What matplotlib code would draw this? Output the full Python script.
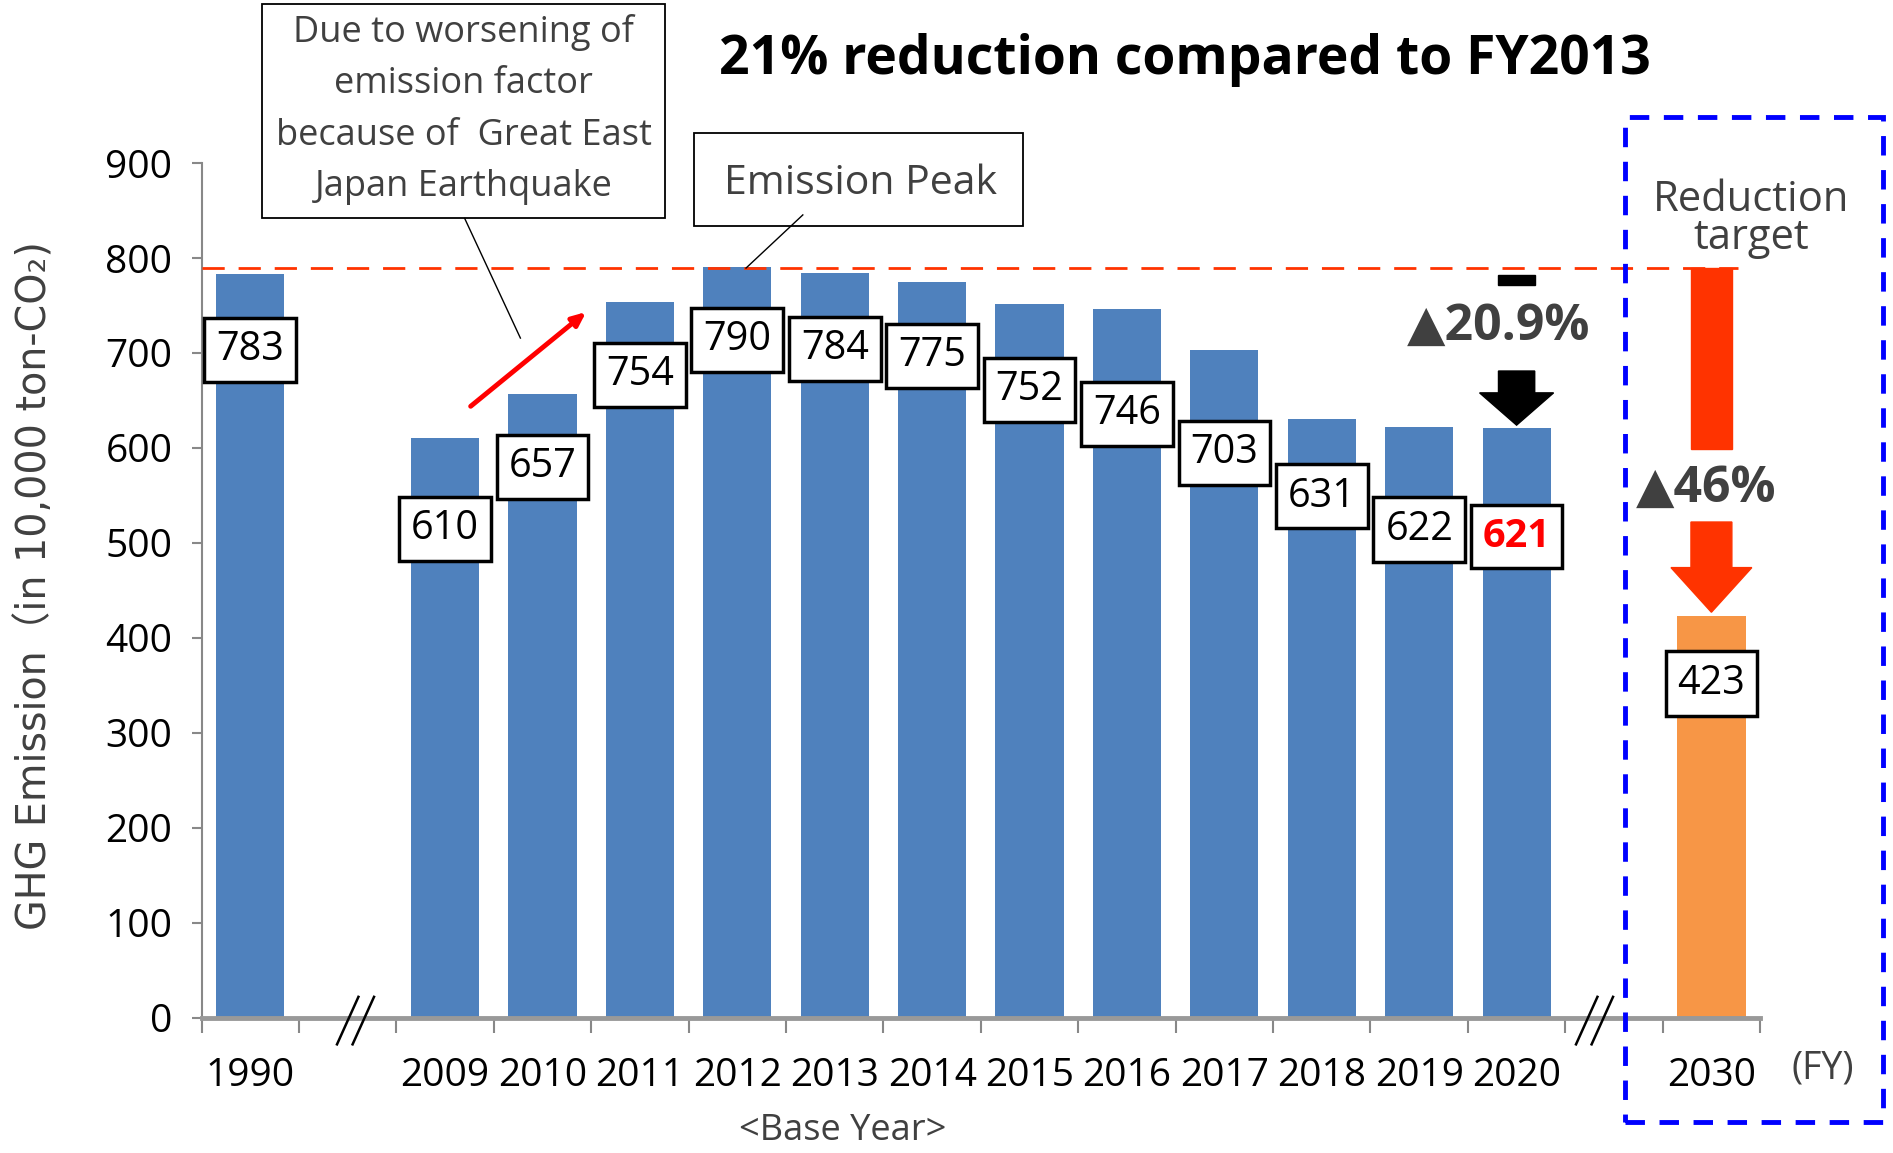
import matplotlib
matplotlib.use("Agg")
import matplotlib.pyplot as plt
from matplotlib.patches import Rectangle, Polygon
from matplotlib.lines import Line2D

# categories along the x axis ("" = empty slot used for the axis break)
slots = ["1990", "", "2009", "2010", "2011", "2012", "2013", "2014", "2015",
         "2016", "2017", "2018", "2019", "2020", "", "2030"]
# GHG emission, in 10,000 ton-CO2
values = [783, 610, 657, 754, 790, 784, 775, 752, 746, 703, 631, 622, 621, 423]
# where each value box sits (same units as y axis)
box_y = [703, 515, 580, 677, 714, 704, 697, 661, 636, 595, 549, 514, 507, 352]
peak = 790
cut_2020 = "▲20.9%"
cut_2030 = "▲46%"

BLUE = "#4F81BD"
ORANGE = "#F79646"
RED = "#FF3300"
GRAY_TXT = "#404040"

plt.rcParams["font.family"] = ["Open Sans", "DejaVu Sans", "Noto Sans CJK JP"]

fig = plt.figure(figsize=(18.93, 11.53), dpi=100)
ax = fig.add_axes([0.1065, 0.1173, 0.8233, 0.7413])

xpos = [i for i, s in enumerate(slots) if s]
colors = [BLUE] * (len(values) - 1) + [ORANGE]
ax.bar(xpos, values, width=0.7, color=colors, zorder=2)

ax.set_xlim(-0.5, len(slots) - 0.5)
ax.set_ylim(0, 900)
ax.set_yticks(range(0, 901, 100))
ax.set_xticks(range(len(slots)))
ax.set_xticklabels(slots)
ax.set_xticks([i - 0.5 for i in range(len(slots) + 1)], minor=True)
ax.tick_params(axis="x", which="major", length=0, pad=28, labelsize=28, labelcolor="black")
ax.tick_params(axis="x", which="minor", length=11, width=1.5, color="#888888")
ax.tick_params(axis="y", length=7, width=1.5, color="#888888", pad=14, labelsize=28)
for s in ["top", "right"]:
    ax.spines[s].set_visible(False)
ax.spines["left"].set_color("#888888")
ax.spines["left"].set_linewidth(1.5)
ax.spines["bottom"].set_color("#999999")
ax.spines["bottom"].set_linewidth(3.5)

# axis break marks
for bx in [1.08, 13.8]:
    for dx in [-0.08, 0.08]:
        ax.plot([bx + dx - 0.11, bx + dx + 0.11], [-28, 22], color="black", lw=1.8,
                clip_on=False, zorder=5)

# value boxes
for x, v, y in zip(xpos, values, box_y):
    last_blue = (x == xpos[-2])
    ax.text(x, y, str(v), ha="center", va="center", fontsize=28.5,
            color="red" if last_blue else "black",
            fontweight="bold" if last_blue else "normal", zorder=6,
            bbox=dict(boxstyle="square,pad=0.3", fc="white", ec="black", lw=2.5))

# peak line
ax.plot([-0.5, 15.27], [peak - 1, peak - 1], color=RED, lw=2, dashes=(8, 5), zorder=4,
        clip_on=False)

# red rising arrow
ax.annotate("", xy=(3.47, 745), xytext=(2.24, 642),
            arrowprops=dict(arrowstyle="-|>,head_length=0.8,head_width=0.35",
                            color="red", lw=3.5), zorder=5)

# black arrow on 2020
x20 = xpos[-2]
ax.add_patch(Rectangle((x20 - 0.186, 772), 0.372, 10, color="black", zorder=5))
ax.add_patch(Polygon([(x20 - 0.186, 681), (x20 + 0.186, 681), (x20 + 0.186, 658),
                      (x20 + 0.38, 658), (x20, 624), (x20 - 0.38, 658),
                      (x20 - 0.186, 658)], closed=True, color="black", zorder=5))
ax.text(12.81, 728, cut_2020, ha="center", va="center", fontsize=36,
        fontweight="bold", color=GRAY_TXT, zorder=6)

# red arrow on 2030
x30 = xpos[-1]
ax.add_patch(Rectangle((x30 - 0.21, 599), 0.42, 190, color=RED, zorder=5, clip_on=False))
ax.add_patch(Polygon([(x30 - 0.21, 522), (x30 + 0.21, 522), (x30 + 0.21, 474),
                      (x30 + 0.415, 474), (x30, 427), (x30 - 0.415, 474),
                      (x30 - 0.21, 474)], closed=True, color=RED, zorder=5))
ax.text(14.95, 557, cut_2030, ha="center", va="center", fontsize=36,
        fontweight="bold", color=GRAY_TXT, zorder=6)

# figure-level texts
fig.text(0.626, 0.948, "21% reduction compared to FY2013", ha="center", va="center",
         fontsize=38.5, fontweight="bold", color="black")
fig.text(0.019, 0.492, "GHG Emission（in 10,000 ton-CO₂)", rotation=90, ha="center",
         va="center", fontsize=28.5, color=GRAY_TXT,
         family=["DejaVu Sans", "Noto Sans CJK JP"])
fig.text(0.445, 0.019, "<Base Year>", ha="center", va="center", fontsize=26, color=GRAY_TXT)
fig.text(0.963, 0.073, "(FY)", ha="center", va="center", fontsize=27, color=GRAY_TXT)
fig.text(0.925, 0.810, "Reduction\ntarget", ha="center", va="center", fontsize=30,
         color=GRAY_TXT, linespacing=0.9)

# callout boxes
fig.patches.append(Rectangle((0.1384, 0.8105), 0.213, 0.1864, transform=fig.transFigure,
                             fill=False, ec="black", lw=1.3))
fig.text(0.245, 0.905, "Due to worsening of\nemission factor\nbecause of  Great East\nJapan Earthquake",
         ha="center", va="center", fontsize=26, color=GRAY_TXT, linespacing=1.56)
fig.lines.append(Line2D([0.2455, 0.2749], [0.8105, 0.7068], transform=fig.transFigure,
                        color="black", lw=1))
fig.patches.append(Rectangle((0.3667, 0.8042), 0.1735, 0.0806, transform=fig.transFigure,
                             fill=False, ec="black", lw=1.3))
fig.text(0.4547, 0.8408, "Emission Peak", ha="center", va="center", fontsize=29.5,
         color=GRAY_TXT)
fig.lines.append(Line2D([0.4241, 0.3941], [0.8136, 0.7675], transform=fig.transFigure,
                        color="black", lw=1))

# target year frame
fig.patches.append(Rectangle((0.8584, 0.0272), 0.1365, 0.8712, transform=fig.transFigure,
                             fill=False, ec="#0000FF", lw=3.5, linestyle=(0, (4, 3))))

fig.savefig("out.png", dpi=100)
